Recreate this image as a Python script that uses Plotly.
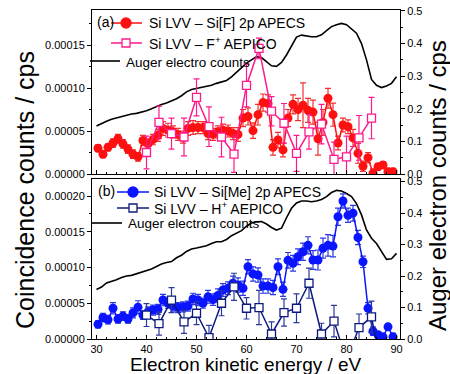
import plotly.graph_objects as go

# ---------------- data ----------------
# (a) Si LVV - Si[F] 2p APECS  (coincidence counts, 1e-5 cps)
energy_apecs = [30.3 + i for i in range(60)]
apecs_a = [3.0, 2.3, 3.1, 3.6, 4.1, 3.5, 2.9, 2.3, 2.0, 3.9,
           3.5, 4.0, 4.5, 5.3, 5.1, 4.9, 4.6, 4.3, 5.3,
           5.4, 5.4, 5.4, 4.7, 4.6, 4.9, 5.1, 5.0, 4.7, 4.6, 6.5, 6.7, 5.05, 6.9, 8.3, 8.2,
           3.1, 3.95, 2.8, 6.5, 8.1, 7.5, 8.0, 7.4, 7.2, 4.1,
           6.0, 8.8, 6.9, 3.6, 5.7, 5.5, 4.2, 2.4, 0.9, 1.9, 0.1, 0.85, 1.05, 0.27, 0.27]
apecs_a_err = [0.4, 0.4, 0.4, 0.5, 0.5, 0.5, 0.5, 0.5, 0.5, 0.6,
               0.6, 0.6, 0.7, 0.8, 0.8, 0.7, 0.7, 0.7, 0.8,
               0.8, 0.7, 0.7, 0.7, 0.7, 0.7, 0.7, 0.7, 0.7, 0.8, 1.0, 1.0, 0.9, 1.2, 1.0, 1.0,
               0.9, 0.9, 0.8, 1.0, 1.1, 1.3, 2.6, 1.4, 1.4, 1.9,
               1.5, 1.15, 1.35, 0.8, 0.8, 0.8, 1.0, 1.15, 0.6, 0.6, 0.5, 0.4, 0.4, 0.4, 0.4]

# (a) Si LVV - F+ AEPICO
energy_aepico_a = [40, 42.5, 45, 47.5, 50, 52.5, 55, 57.5, 60, 62.5, 65, 67.5,
                   70, 72.5, 75, 77.5, 80, 82.5, 85]
aepico_a = [2.5, 6.0, 4.7, 4.3, 8.9, 5.5, 4.3, 2.3, 10.3, 14.6, 7.3, 5.9,
            2.4, 4.9, 5.8, 1.7, 2.0, 4.2, 6.5]
aepico_a_err = [1.9, 1.9, 1.8, 2.2, 2.15, 2.3, 2.3, 2.1, 2.5, 1.2, 1.7, 2.3,
                2.1, 2.0, 2.3, 2.0, 2.4, 2.6, 2.4]

# (b) Si LVV - Si[Me] 2p APECS
apecs_b = [2.05, 3.0, 2.7, 4.3, 2.8, 3.2, 2.8, 3.65, 4.45, 3.35,
           3.8, 4.05, 4.15, 5.45, 5.0, 4.6, 4.4, 4.5, 4.6,
           5.6, 5.45, 5.0, 5.9, 5.5, 6.1, 6.85, 7.1, 7.8, 7.55,
           7.1, 10.1, 9.1, 8.95, 7.4, 7.4, 7.2, 10.1, 6.95, 11.0,
           10.6, 11.5, 12.2, 13.1, 11.05, 11.05, 12.7, 13.1, 13.0, 17.1,
           19.3, 17.3, 17.6, 14.2, 10.8, 4.3, 1.1, 0.6, 0.3, 1.7, 0.3]
apecs_b_err = [0.5, 0.6, 0.6, 0.8, 0.6, 0.6, 0.6, 0.7, 0.9, 0.6,
               0.7, 0.7, 0.7, 0.8, 0.7, 0.7, 0.7, 0.7, 0.7, 0.8,
               0.8, 0.7, 0.9, 0.8, 0.9, 0.9, 0.9, 1.0, 1.0, 1.0,
               1.0, 1.0, 1.0, 1.0, 1.0, 1.0, 1.1, 1.0, 1.1, 1.1,
               1.1, 1.2, 1.2, 1.3, 1.4, 1.4, 1.5, 1.5, 1.2, 1.0,
               1.0, 1.1, 1.0, 0.8, 0.8, 0.6, 0.4, 0.4, 0.4, 0.5]

# (b) Si LVV - H+ AEPICO
energy_aepico_b = [40, 42.5, 45, 47.5, 50, 52.5, 55, 57.5, 60, 62.5, 65, 67.5,
                   70, 72.5, 75, 77.5, 80, 82.5, 85, 87.5]
aepico_b = [3.35, 2.15, 5.45, 2.4, 3.6, 0.2, 5.0, 7.3, 4.3, 4.4, 0.7, 3.7,
            4.3, 7.8, 0.7, 2.5, -3.0, 1.6, 3.1, -6.0]
aepico_b_err = [1.6, 1.6, 1.75, 1.6, 1.6, 1.7, 1.75, 1.9, 1.5, 2.4, 1.7, 1.9,
                2.0, 2.1, 1.5, 2.2, 1.8, 1.9, 2.2, 2.0]

# Auger electron counts (cps, right axes)
energy_auger = list(range(30, 91))
auger_a = [0.147, 0.155, 0.162, 0.168, 0.172, 0.177, 0.180, 0.184, 0.186, 0.189,
           0.194, 0.200, 0.207, 0.213, 0.218, 0.224, 0.231, 0.240, 0.252, 0.259,
           0.262, 0.265, 0.268, 0.272, 0.278, 0.282, 0.287, 0.298, 0.312, 0.328,
           0.340, 0.350, 0.360, 0.357, 0.345, 0.332, 0.330, 0.342, 0.365, 0.395,
           0.420, 0.426, 0.423, 0.421, 0.421, 0.427, 0.440, 0.452, 0.458, 0.462,
           0.458, 0.446, 0.432, 0.400, 0.350, 0.290, 0.272, 0.265, 0.270, 0.278, 0.298]
auger_b = [0.157, 0.165, 0.178, 0.182, 0.188, 0.195, 0.200, 0.202, 0.207, 0.211,
           0.215, 0.222, 0.230, 0.238, 0.243, 0.246, 0.258, 0.266, 0.278, 0.286,
           0.289, 0.292, 0.296, 0.303, 0.309, 0.309, 0.316, 0.328, 0.335, 0.344,
           0.358, 0.368, 0.372, 0.373, 0.365, 0.354, 0.346, 0.352, 0.385, 0.415,
           0.432, 0.438, 0.438, 0.436, 0.438, 0.443, 0.452, 0.465, 0.472, 0.470,
           0.462, 0.452, 0.430, 0.394, 0.346, 0.320, 0.303, 0.280, 0.253, 0.255, 0.272]

SCALE = 1e-5
def sc(v):
    return [x * SCALE for x in v]

RED = "#ff1010"
PINK = "#ff1a8c"
BLUE = "#0a14ff"
NAVY = "#0c1a80"
FONT = "Liberation Sans, Arial, sans-serif"

fig = go.Figure()

# Auger lines (base right axes, drawn underneath)
fig.add_trace(go.Scatter(x=energy_auger, y=auger_a, mode="lines",
                         line=dict(color="black", width=1.6),
                         xaxis="x", yaxis="y", showlegend=False))
fig.add_trace(go.Scatter(x=energy_auger, y=auger_b, mode="lines",
                         line=dict(color="black", width=1.6),
                         xaxis="x2", yaxis="y3", showlegend=False))

# panel (a)
fig.add_trace(go.Scatter(x=energy_apecs, y=sc(apecs_a), mode="lines+markers",
                         line=dict(color=RED, width=1.5),
                         marker=dict(symbol="circle", size=9, color=RED),
                         error_y=dict(type="data", array=sc(apecs_a_err), color="#f03030",
                                      thickness=1.2, width=3),
                         xaxis="x", yaxis="y2", showlegend=False))
fig.add_trace(go.Scatter(x=energy_aepico_a, y=sc(aepico_a), mode="lines+markers",
                         line=dict(color=PINK, width=1.5),
                         marker=dict(symbol="square", size=8, color="white",
                                     line=dict(color=PINK, width=1.3)),
                         error_y=dict(type="data", array=sc(aepico_a_err), color=PINK,
                                      thickness=1.2, width=3),
                         xaxis="x", yaxis="y2", showlegend=False))

# panel (b)
fig.add_trace(go.Scatter(x=energy_apecs, y=sc(apecs_b), mode="lines+markers",
                         line=dict(color=BLUE, width=1.5),
                         marker=dict(symbol="circle", size=9, color=BLUE),
                         error_y=dict(type="data", array=sc(apecs_b_err), color="#2a3ae0",
                                      thickness=1.2, width=3),
                         xaxis="x2", yaxis="y4", showlegend=False))
fig.add_trace(go.Scatter(x=energy_aepico_b, y=sc(aepico_b), mode="lines+markers",
                         line=dict(color=NAVY, width=1.5),
                         marker=dict(symbol="square", size=8, color="white",
                                     line=dict(color=NAVY, width=1.3)),
                         error_y=dict(type="data", array=sc(aepico_b_err), color="#2a3a9a",
                                      thickness=1.2, width=3),
                         xaxis="x2", yaxis="y4", showlegend=False))

# ------------- layout -------------
L, R, T, B = 92, 400, 10, 339
W, H = R - L, B - T
def px(x):
    return (x - L) / W
def py(y):
    return (B - y) / H

top_dom = [py(174), 1.0]
bot_dom = [0.0, py(179)]
xr = [29.1, 90.7]
tickfont = dict(family=FONT, size=11, color="black")

xcommon = dict(range=xr, showline=True, linecolor="black", linewidth=1, mirror=True,
               ticks="inside", ticklen=4, tickcolor="black", dtick=10, tick0=30,
               showgrid=False, zeroline=False, tickfont=tickfont, automargin=False,
               minor=dict(dtick=2, ticks="inside", ticklen=2, tickcolor="black"))
yleft = dict(side="left", showline=True, linecolor="black", linewidth=1,
             ticks="outside", ticklen=4, tickcolor="black", dtick=5e-5, tick0=0,
             tickformat=".5f", showgrid=False, zeroline=False, tickfont=tickfont,
             automargin=False,
             minor=dict(dtick=2.5e-5, ticks="outside", ticklen=2, tickcolor="black"))
yright = dict(side="right", showline=True, linecolor="black", linewidth=1,
              ticks="outside", ticklen=4, tickcolor="black", dtick=0.1, tick0=0,
              tickformat=".1f", showgrid=False, zeroline=False, tickfont=tickfont,
              automargin=False,
              minor=dict(dtick=0.05, ticks="outside", ticklen=2, tickcolor="black"))

fig.update_layout(
    template="none",
    width=450, height=374,
    margin=dict(l=L, r=450 - R, t=T, b=374 - B, autoexpand=False),
    paper_bgcolor="white", plot_bgcolor="white",
    font=dict(family=FONT, color="black"),
    showlegend=False,
    xaxis=dict(xcommon, domain=[0, 1], anchor="y", showticklabels=False),
    xaxis2=dict(xcommon, domain=[0, 1], anchor="y3"),
    yaxis=dict(yright, domain=top_dom, anchor="x", range=[0, 0.503]),
    yaxis2=dict(yleft, domain=top_dom, anchor="x", overlaying="y", range=[0, 1.907e-4]),
    yaxis3=dict(yright, domain=bot_dom, anchor="x2", range=[0, 0.508]),
    yaxis4=dict(yleft, domain=bot_dom, anchor="x2", overlaying="y3", range=[0, 2.238e-4]),
)

annotations = []
shapes = []

def text(x, y, s, size=14, anchor="left", angle=0):
    annotations.append(dict(xref="paper", yref="paper", x=px(x), y=py(y), text=s,
                            showarrow=False, xanchor=anchor, yanchor="middle",
                            textangle=angle, font=dict(family=FONT, size=size, color="black")))

def seg(x0, x1, y, color, width=1.5):
    shapes.append(dict(type="line", xref="paper", yref="paper", x0=px(x0), x1=px(x1),
                       y0=py(y), y1=py(y), line=dict(color=color, width=width)))

def mark(x, y, kind, color, fill, r=4.5):
    shapes.append(dict(type=kind, xref="paper", yref="paper",
                       xsizemode="pixel", ysizemode="pixel",
                       xanchor=px(x), yanchor=py(y), x0=-r, x1=r, y0=-r, y1=r,
                       fillcolor=fill, line=dict(color=color, width=1.3)))

# legend (a)
text(95, 22, "(a)")
seg(111, 142, 23, RED)
mark(126, 23, "circle", RED, RED, r=5)
text(147, 23, "Si LVV – Si[F] 2p APECS")
seg(111, 142, 43, PINK)
mark(126, 43, "rect", PINK, "white", r=4)
text(147, 43, "Si LVV – F<sup>+</sup> AEPICO")
seg(90, 120, 61, "black", 1.6)
text(124, 62, "Auger electro counts", size=13.5)

# legend (b)
text(96, 191, "(b)")
seg(117, 149, 192, BLUE)
mark(133, 192, "circle", BLUE, BLUE, r=5)
text(152, 192, "Si LVV – Si[Me] 2p APECS")
seg(117, 149, 208, NAVY)
mark(133, 208, "rect", NAVY, "white", r=4)
text(152, 208, "Si LVV – H<sup>+</sup> AEPICO")
seg(92, 122, 223, "black", 1.6)
text(126, 224, "Auger electron counts", size=13.5)

# axis titles
text(25, 190, "Coincidence counts / cps", size=25, anchor="center", angle=-90)
text(437, 186, "Auger electron counts / cps", size=24, anchor="center", angle=-90)
text(246, 364, "Electron kinetic energy / eV", size=19, anchor="center")

fig.update_layout(annotations=annotations, shapes=shapes)
fig.write_html("out.html", config={"displayModeBar": False},
               post_script="document.body.style.margin='0px';")
